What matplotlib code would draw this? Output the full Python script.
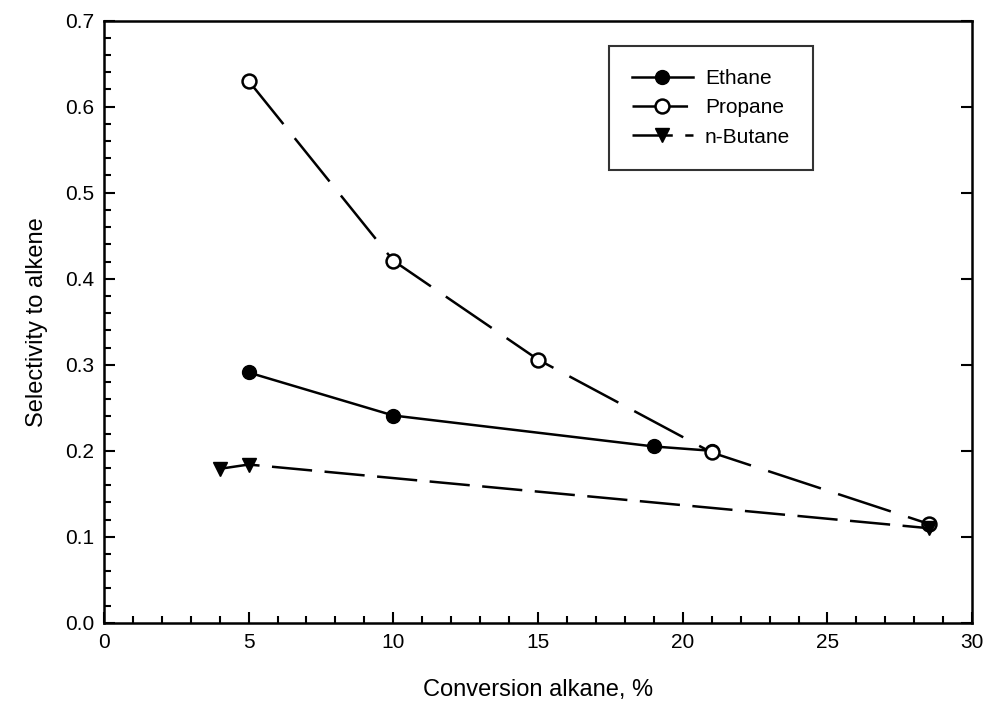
import numpy as np
import matplotlib
matplotlib.use('Agg')
import matplotlib.pyplot as plt
from matplotlib.ticker import MultipleLocator

plt.rcParams['font.family'] = ['Liberation Sans', 'DejaVu Sans']
plt.rcParams['lines.scale_dashes'] = False

# data
ethane_x = [5, 10, 19, 21]
ethane_y = [0.291, 0.241, 0.205, 0.200]
propane_x = [5, 10, 15, 21, 28.5]
propane_y = [0.630, 0.421, 0.306, 0.198, 0.115]
butane_x = [4, 5, 28.5]
butane_y = [0.179, 0.184, 0.110]

fig = plt.figure(figsize=(9.89, 7.11), dpi=100)
ax = fig.add_axes([0.105, 0.124, 0.878, 0.847])

ax.plot(ethane_x, ethane_y, color='k', lw=1.8, marker='o', ms=10,
        mfc='k', mec='k', label='Ethane')
ax.plot(propane_x, propane_y, color='k', lw=1.8, marker='o', ms=10,
        mfc='white', mec='k', mew=1.8, dashes=(40, 13), label='Propane')
ax.plot(butane_x, butane_y, color='k', lw=1.8, marker='v', ms=10,
        mfc='k', mec='k', dashes=(29, 9), label='n-Butane')

ax.set_xlim(0, 30)
ax.set_ylim(0, 0.7)
ax.xaxis.set_major_locator(MultipleLocator(5))
ax.xaxis.set_minor_locator(MultipleLocator(1))
ax.yaxis.set_major_locator(MultipleLocator(0.1))
ax.yaxis.set_minor_locator(MultipleLocator(0.02))
ax.yaxis.set_major_formatter(plt.FormatStrFormatter('%.1f'))

ax.tick_params(which='both', direction='in', labelsize=15, width=1.5)
ax.tick_params(which='major', length=8, pad=7)
ax.tick_params(which='minor', length=5)
ax.tick_params(axis='y', which='major', right=True)
for s in ax.spines.values():
    s.set_linewidth(1.8)

ax.set_xlabel('Conversion alkane, %', fontsize=17, labelpad=20)
ax.set_ylabel('Selectivity to alkene', fontsize=17, labelpad=12)

leg = ax.legend(loc='upper left', bbox_to_anchor=(0.582, 0.958), fontsize=15,
                frameon=True, fancybox=False, edgecolor='k', handlelength=2.9,
                borderpad=1.1, labelspacing=0.5, handletextpad=0.6,
                borderaxespad=0)
leg.get_frame().set_linewidth(1.5)

plt.savefig('out.png', dpi=100)
